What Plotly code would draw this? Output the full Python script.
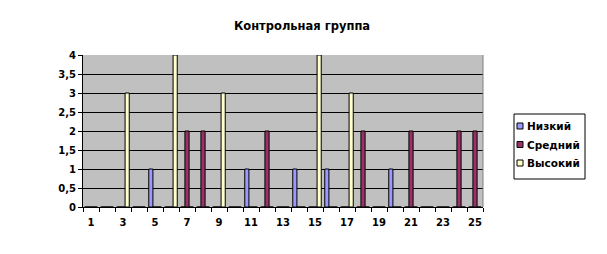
import plotly.graph_objects as go

categories = list(range(1, 26))
low = [0, 0, 0, 0, 1, 0, 0, 0, 0, 0, 1, 0, 0, 1, 0, 1, 0, 0, 0, 1, 0, 0, 0, 0, 0]
mid = [0, 0, 0, 0, 0, 0, 2, 2, 0, 0, 0, 2, 0, 0, 0, 0, 0, 2, 0, 0, 2, 0, 0, 2, 2]
high = [0, 0, 3, 0, 0, 4, 0, 0, 3, 0, 0, 0, 0, 0, 4, 0, 3, 0, 0, 0, 0, 0, 0, 0, 0]
series_names = ["Низкий", "Средний", "Высокий"]
colors = ["#9999FF", "#993366", "#FFFFCC"]
y_ticks = [0, 0.5, 1, 1.5, 2, 2.5, 3, 3.5, 4]
y_labels = ["0", "0,5", "1", "1,5", "2", "2,5", "3", "3,5", "4"]
x_ticks = [c for c in categories if c % 2 == 1]

font_family = "DejaVu Sans, Liberation Sans, sans-serif"

W, H = 607, 254
L, R, T, B = 83, 483, 55, 207  # plot area in pixels

fig = go.Figure()
for name, vals, col in zip(series_names, [low, mid, high], colors):
    fig.add_trace(go.Bar(
        x=categories, y=vals, name=name,
        marker=dict(color=col, line=dict(color="black", width=1)),
    ))

fig.update_layout(
    width=W, height=H,
    margin=dict(l=L, r=W - R, t=T, b=H - B, pad=0),
    paper_bgcolor="white",
    plot_bgcolor="#C0C0C0",
    barmode="group",
    bargap=0.22,
    bargroupgap=0,
    title=dict(text="<b>Контрольная группа</b>", x=302 / W, xref="container", y=1 - 26 / H,
               yref="container", xanchor="center", yanchor="middle",
               font=dict(family=font_family, size=11.5, color="black")),
    font=dict(family=font_family, color="black"),
    showlegend=False,
)

fig.update_xaxes(
    range=[0.5, 25.5],
    tickmode="array", tickvals=x_ticks, ticktext=[f"<b>{v}</b>" for v in x_ticks],
    ticks="", ticklen=0, ticklabelstandoff=6,
    tickfont=dict(family=font_family, size=10, color="black"),
    showgrid=False, zeroline=False,
    showline=True, linecolor="black", linewidth=1,
    minor=dict(tickmode="array", tickvals=[c + 0.5 for c in range(0, 26)],
               ticks="outside", ticklen=4, tickcolor="black", showgrid=False),
)
fig.update_yaxes(
    range=[0, 4],
    tickmode="array", tickvals=y_ticks, ticktext=[f"<b>{t}</b>" for t in y_labels],
    ticks="outside", ticklen=4, tickcolor="black",
    tickfont=dict(family=font_family, size=10, color="black"),
    showgrid=True, gridcolor="black", gridwidth=1,
    zeroline=False,
    showline=True, linecolor="black", linewidth=1,
)
# gray right border of plot area
fig.add_shape(type="line", xref="paper", yref="paper", x0=1, x1=1, y0=0, y1=1,
              line=dict(color="#808080", width=1))


def px_x(p):
    return (p - L) / (R - L)


def px_y(p):
    return (B - p) / (B - T)


# custom legend (Excel style)
box = (514, 114, 585, 179)
fig.add_shape(type="rect", xref="paper", yref="paper",
              x0=px_x(box[0]), x1=px_x(box[2]), y0=px_y(box[3]), y1=px_y(box[1]),
              line=dict(color="black", width=1), fillcolor="white")
item_y = [126, 144.5, 163]
for name, col, yy in zip(series_names, colors, item_y):
    fig.add_shape(type="rect", xref="paper", yref="paper",
                  x0=px_x(517), x1=px_x(523), y0=px_y(yy + 3), y1=px_y(yy - 3),
                  line=dict(color="black", width=1), fillcolor=col)
    fig.add_annotation(xref="paper", yref="paper", x=px_x(525), y=px_y(yy),
                       xanchor="left", yanchor="middle", showarrow=False,
                       text=f"<b>{name}</b>",
                       font=dict(family=font_family, size=10.5, color="black"))

fig.write_html("out.html")
